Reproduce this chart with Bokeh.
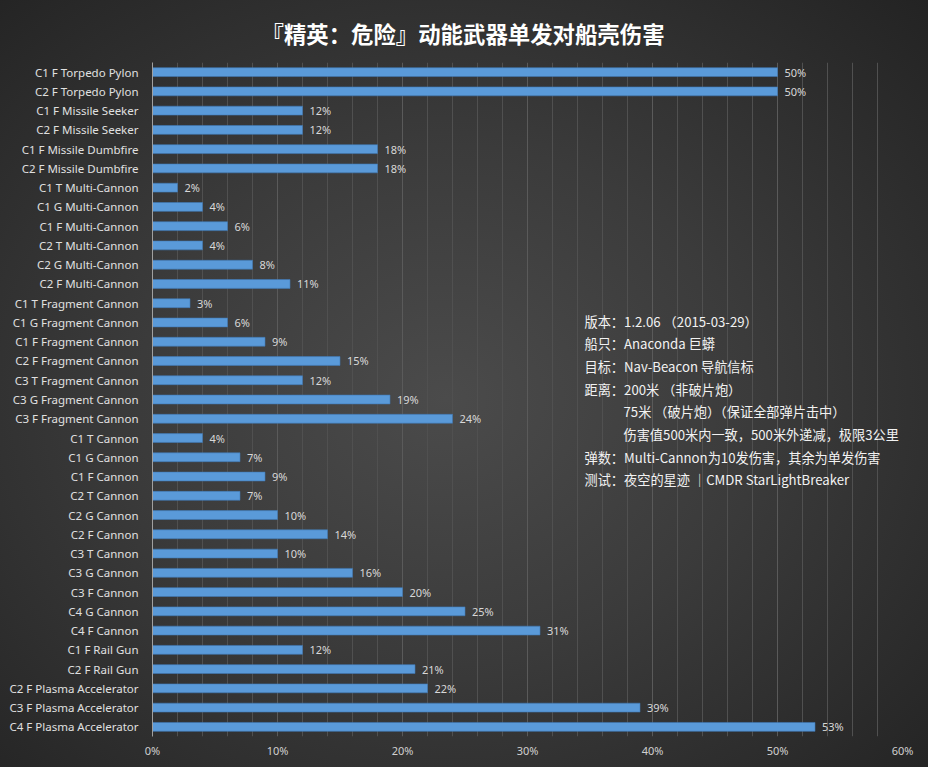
from bokeh.plotting import figure
from bokeh.models import (ColumnDataSource, FactorRange, NumeralTickFormatter,
                          FixedTicker, Label, GlobalInlineStyleSheet)
from bokeh.embed import file_html
from bokeh.resources import INLINE

weapons = [
    "C1 F Torpedo Pylon", "C2 F Torpedo Pylon", "C1 F Missile Seeker", "C2 F Missile Seeker",
    "C1 F Missile Dumbfire", "C2 F Missile Dumbfire", "C1 T Multi-Cannon", "C1 G Multi-Cannon",
    "C1 F Multi-Cannon", "C2 T Multi-Cannon", "C2 G Multi-Cannon", "C2 F Multi-Cannon",
    "C1 T Fragment Cannon", "C1 G Fragment Cannon", "C1 F Fragment Cannon", "C2 F Fragment Cannon",
    "C3 T Fragment Cannon", "C3 G Fragment Cannon", "C3 F Fragment Cannon", "C1 T Cannon",
    "C1 G Cannon", "C1 F Cannon", "C2 T Cannon", "C2 G Cannon", "C2 F Cannon", "C3 T Cannon",
    "C3 G Cannon", "C3 F Cannon", "C4 G Cannon", "C4 F Cannon", "C1 F Rail Gun", "C2 F Rail Gun",
    "C2 F Plasma Accelerator", "C3 F Plasma Accelerator", "C4 F Plasma Accelerator",
]
damage_pct = [50, 50, 12, 12, 18, 18, 2, 4, 6, 4, 8, 11, 3, 6, 9, 15, 12, 19, 24,
              4, 7, 9, 7, 10, 14, 10, 16, 20, 25, 31, 12, 21, 22, 39, 53]

major_ticks_pct = [0, 10, 20, 30, 40, 50, 60]
minor_ticks_pct = [2, 4, 6, 8, 12, 14, 16, 18, 22, 24, 26, 28, 32, 34, 36, 38,
                   42, 44, 46, 48, 52, 54, 56, 58]

title_text = "『精英：危险』动能武器单发对船壳伤害"
info_lines = [
    ("版本：1.2.06 （2015-03-29）", False),
    ("船只：Anaconda  巨蟒", False),
    ("目标：Nav-Beacon  导航信标", False),
    ("距离：200米 （非破片炮）", False),
    ("75米   （破片炮）（保证全部弹片击中）", True),
    ("伤害值500米内一致，500米外递减，极限3公里", True),
    ("弹数：Multi-Cannon为10发伤害，其余为单发伤害", False),
    ("测试：夜空的星迹 ｜CMDR StarLightBreaker", False),
]

src = ColumnDataSource(dict(
    y=weapons,
    x=[v / 100 for v in damage_pct],
    lab=[f"{v}%" for v in damage_pct],
))

W, H = 928, 767
p = figure(width=W, height=H, output_backend="svg", toolbar_location=None,
           y_range=FactorRange(factors=weapons[::-1], range_padding=0),
           x_range=(0, 0.6),
           min_border_left=152, min_border_right=26, min_border_top=62, min_border_bottom=31)

p.stylesheets = [GlobalInlineStyleSheet(css="body{background:#262626;}")]
p.styles = {"background": "radial-gradient(ellipse at 48% 52%, #4b4b4b 0%, #3b3b3b 45%, #232323 100%)"}
p.background_fill_alpha = 0
p.border_fill_alpha = 0
p.outline_line_color = None

p.title.text = title_text
p.title.align = "left"
p.title.offset = 109
p.title.text_color = "#ffffff"
p.title.text_font = "Noto Sans CJK SC"
p.title.text_font_size = "22.4px"
p.title.text_font_style = "bold"
p.title.text_line_height = 0.75
p.title.standoff = 28

p.hbar(y="y", right="x", left=0, height=0.46, source=src,
       fill_color="#5a9ad9", line_color="#3f78b5", line_width=0.6)

p.text(x="x", y="y", text="lab", source=src, x_offset=7,
       text_baseline="middle", text_align="left", text_font_size="11px",
       text_color="#d8d8d8", text_font={"value": "Noto Sans"})

# x axis
p.xaxis.ticker = FixedTicker(ticks=[t / 100 for t in major_ticks_pct],
                             minor_ticks=[t / 100 for t in minor_ticks_pct])
p.xaxis.formatter = NumeralTickFormatter(format="0%")
p.xaxis.axis_line_color = None
p.xaxis.major_tick_line_color = None
p.xaxis.minor_tick_line_color = None
p.xaxis.major_label_text_color = "#d0d0d0"
p.xaxis.major_label_text_font = "Noto Sans"
p.xaxis.major_label_text_font_size = "11px"
p.xaxis.major_label_standoff = 0

p.xgrid.grid_line_color = "#5a5a5a"
p.xgrid.minor_grid_line_color = "#505050"
p.ygrid.grid_line_color = None

# y axis
p.yaxis.axis_line_color = "#a0a0a0"
p.yaxis.major_tick_line_color = None
p.yaxis.minor_tick_line_color = None
p.yaxis.major_label_text_color = "#e0e0e0"
p.yaxis.major_label_text_font = "Noto Sans"
p.yaxis.major_label_text_font_size = "11.5px"
p.yaxis.major_label_standoff = 8

# info text block
x_main, x_indent = 0.3456, 0.3768
y0, dy = 415.5, 22.7
for i, (txt, indent) in enumerate(info_lines):
    p.add_layout(Label(x=x_indent if indent else x_main, y=y0 - i * dy,
                       x_units="data", y_units="screen", text=txt,
                       text_baseline="middle", text_font="Noto Sans CJK SC",
                       text_font_size="13.2px", text_color="#f2f2f2"))

open("out.html", "w").write(file_html(p, INLINE))
